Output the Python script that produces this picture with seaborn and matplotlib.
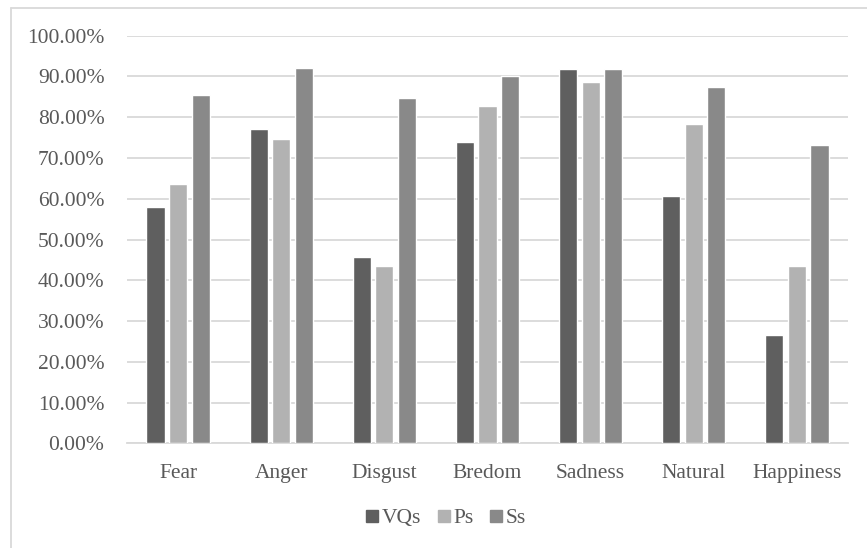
import matplotlib
matplotlib.use("Agg")
import matplotlib.pyplot as plt
from matplotlib.lines import Line2D
from matplotlib.ticker import FuncFormatter, MultipleLocator
import pandas as pd
import seaborn as sns

categories = ["Fear", "Anger", "Disgust", "Bredom", "Sadness", "Natural", "Happiness"]
series = ["VQs", "Ps", "Ss"]
vqs = [0.580, 0.772, 0.457, 0.740, 0.919, 0.608, 0.267]
ps = [0.637, 0.747, 0.435, 0.827, 0.887, 0.784, 0.436]
ss = [0.855, 0.921, 0.847, 0.901, 0.919, 0.873, 0.732]

colors = {"VQs": "#5f5f5f", "Ps": "#b2b2b2", "Ss": "#898989"}
text_color = "#595959"
grid_color = "#d9d9d9"

df = pd.DataFrame({
    "category": categories * 3,
    "series": ["VQs"] * 7 + ["Ps"] * 7 + ["Ss"] * 7,
    "value": vqs + ps + ss,
})

sns.set_theme(style="white")
plt.rcParams["font.family"] = ["Liberation Serif", "DejaVu Serif"]

fig = plt.figure(figsize=(8.67, 5.48), dpi=100)
ax = fig.add_axes([0.1461, 0.1907, 0.8324, 0.7442])

sns.barplot(data=df, x="category", y="value", hue="series", order=categories,
            hue_order=series, palette=colors, width=0.66, gap=0.2,
            saturation=1, errorbar=None, ax=ax, legend=False, zorder=3)

ax.set_ylim(0, 1.0)
ax.set_xlim(-0.5, 6.5)
ax.yaxis.set_major_locator(MultipleLocator(0.1))
ax.yaxis.set_major_formatter(FuncFormatter(lambda v, _: f"{v * 100:.2f}%"))
ax.grid(axis="y", color=grid_color, linewidth=1.3, zorder=0)
ax.set_axisbelow(True)
for side in ["top", "right", "left"]:
    ax.spines[side].set_visible(False)
ax.spines["bottom"].set_color(grid_color)
ax.spines["bottom"].set_linewidth(1.3)
ax.set_xlabel("")
ax.set_ylabel("")
ax.tick_params(axis="both", length=0, labelsize=15.5, colors=text_color)
ax.tick_params(axis="y", pad=16)
ax.tick_params(axis="x", pad=15)

handles = [Line2D([], [], marker="s", linestyle="", markersize=8.5,
                  markerfacecolor=colors[s], markeredgecolor=colors[s]) for s in series]
fig.legend(handles, series, loc="center", bbox_to_anchor=(446 / 867, 1 - 518 / 548),
           ncol=3, frameon=False, fontsize=15.5, labelcolor=text_color,
           handlelength=0.6, handletextpad=0.15, columnspacing=0.75, borderpad=0)

# outer chart frame
fig.add_artist(Line2D([11 / 867, 1.0], [1 - 8 / 548, 1 - 8 / 548],
                      transform=fig.transFigure, color=grid_color, linewidth=1.3))
fig.add_artist(Line2D([11 / 867, 11 / 867], [0.0, 1 - 8 / 548],
                      transform=fig.transFigure, color=grid_color, linewidth=1.3))

fig.savefig("out.png", dpi=100, facecolor="white")
